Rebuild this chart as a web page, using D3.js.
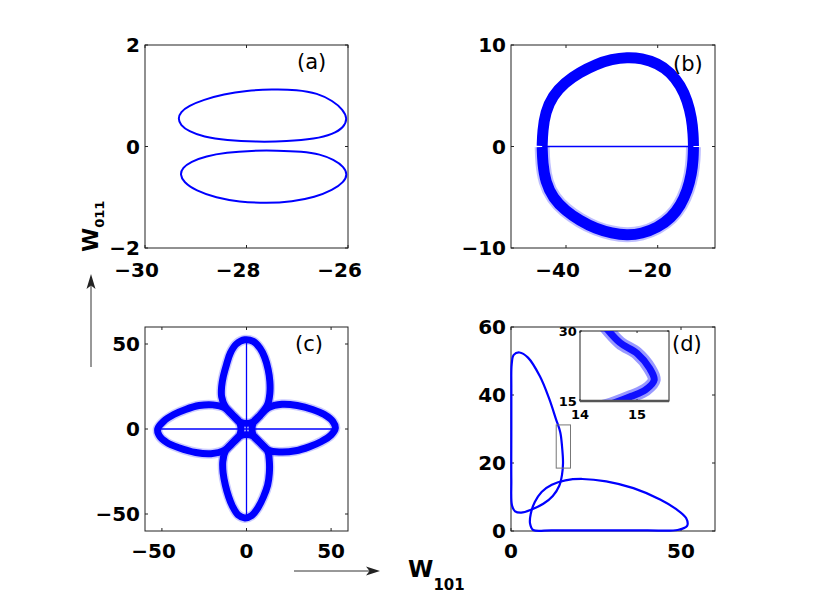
<!DOCTYPE html>
<html>
<head>
<meta charset="utf-8">
<script src="https://cdn.jsdelivr.net/npm/d3@7/dist/d3.min.js"></script>
<style>
  body { margin: 0; background: #fff; }
  text { font-family: "DejaVu Sans", sans-serif; }
</style>
</head>
<body>
<div id="chart"></div>
<script>
// ---- axis ranges and tick labels ----
var aXDomain = [-30, -26], aYDomain = [-2, 2];
var aXTicks = [-30, -28, -26], aYTicks = [-2, 0, 2];
var bXDomain = [-52, -7.5], bYDomain = [-10, 10];
var bXTicks = [-40, -20], bYTicks = [-10, 0, 10];
var cXDomain = [-60, 60], cYDomain = [-60, 60];
var cXTicks = [-50, 0, 50], cYTicks = [-50, 0, 50];
var dXDomain = [0, 60], dYDomain = [0, 60];
var dXTicks = [0, 50], dYTicks = [0, 20, 40, 60];
var insetXDomain = [14, 15.56], insetYDomain = [15, 30];
var insetXTicks = [14, 15], insetYTicks = [15, 30];

// ---- (a) two closed orbits, [W101, W011] ----
var aUpperLoop = [[-29.35, 0.55], [-29.3, 0.68], [-29.14, 0.8], [-28.85, 0.92], [-28.45, 1.03], [-28.0, 1.1],
    [-27.5, 1.13], [-27.0, 1.12], [-26.6, 1.05], [-26.3, 0.9], [-26.1, 0.73], [-26.01, 0.55], [-26.08, 0.38],
    [-26.3, 0.24], [-26.65, 0.15], [-27.2, 0.1], [-27.8, 0.09], [-28.4, 0.12], [-28.85, 0.19], [-29.14, 0.3],
    [-29.3, 0.42]];
var aLowerLoop = [[-29.31, -0.55], [-29.26, -0.42], [-29.1, -0.3], [-28.8, -0.19], [-28.4, -0.12], [-27.9, -0.08],
    [-27.4, -0.08], [-26.9, -0.1], [-26.55, -0.15], [-26.28, -0.26], [-26.08, -0.4], [-26.01, -0.55], [-26.08, -0.7],
    [-26.3, -0.86], [-26.65, -1.0], [-27.1, -1.09], [-27.6, -1.12], [-28.15, -1.09], [-28.6, -1.01],
    [-29.0, -0.87], [-29.24, -0.7]];

// ---- (b) thick band, upper and lower halves ----
var bTopHalf = [[-45.2, 0.05], [-45.1, 1.5], [-44.5, 3.4], [-42.9, 5.0], [-40.3, 6.3], [-37, 7.3], [-33.5, 8.1],
    [-30, 8.6], [-26.7, 8.8], [-23.5, 8.7], [-20, 8.2], [-17.2, 7.3], [-15, 6.0], [-13.5, 4.5], [-12.6, 2.8],
    [-12.25, 1.2], [-12.2, 0.05]];
var bBottomHalf = [[-45.2, -0.05], [-45.1, -1.6], [-44.5, -3.5], [-42.8, -5.1], [-40.2, -6.3], [-37, -7.3],
    [-33.5, -8.1], [-30, -8.55], [-26.7, -8.75], [-23.5, -8.6], [-20, -8.0], [-17, -7.0], [-15, -5.8],
    [-13.5, -4.3], [-12.6, -2.7], [-12.25, -1.2], [-12.2, -0.05]];
var bAxisLine = [[-45.2, 0], [-12.2, 0]];

// ---- (c) four petals ----
var cTopPetal = [[-3.8, 4], [-8, 8], [-12.5, 13], [-14.7, 19], [-14.7, 25], [-13.7, 31], [-11.8, 38], [-9.5, 44.8],
    [-6, 50], [-1, 52.5], [4, 51.5], [8, 47.5], [10.8, 42], [12.8, 35], [13.8, 28], [13.8, 21], [12.5, 14.5],
    [8, 8], [3.8, 4]];
var cBottomPetal = [[3.8, -4], [8, -8], [12.5, -13], [13.5, -19], [13.5, -26], [12.5, -33], [10, -40], [7, -46],
    [3, -51], [-1, -52.3], [-5, -50.5], [-8.5, -45], [-10.5, -40], [-12.5, -33], [-13.8, -26], [-14, -19],
    [-12.5, -13], [-8, -8], [-3.8, -4]];
var cLeftPetal = [[-4, 3.8], [-8, 8], [-13, 12.5], [-20, 14.2], [-28, 13.8], [-36, 11.5], [-43, 8.5], [-49, 4.5],
    [-52.5, 0], [-51.5, -4], [-47, -8], [-40, -11], [-30, -13.8], [-21, -14.5], [-13, -12.5], [-8, -8], [-4, -3.8]];
var cRightPetal = [[4, -3.8], [8, -8], [13, -12.5], [20, -13.5], [29, -12.8], [37, -10.5], [44, -7.5], [50, -3.5],
    [52.5, 0.5], [51, 4.5], [46, 8.5], [39, 11.5], [30, 13.8], [21, 14.5], [13, 12.5], [8, 8], [4, 3.8]];
var cVerticalLine = [[0, -52.5], [0, 52.5]];
var cHorizontalLine = [[-52.5, 0], [52.5, 0]];

// ---- (d) two loops plus zoomed piece ----
var dTallLoop = [[0.2, 49], [0.8, 51.8], [2.5, 52.5], [5, 51], [8.5, 45.5], [11.2, 39], [13.2, 33], [14.5, 29],
    [15.0, 25], [15.3, 20], [15.0, 16.5], [14.2, 13.3], [12.3, 10.3], [9.5, 8], [6, 6.3], [3, 5.4], [1.2, 5.8],
    [0.3, 7.5], [0.1, 15], [0.1, 30], [0.1, 42]];
var dWideLoop = [[6.5, 0.3], [12, 0.2], [25, 0.2], [40, 0.2], [49, 0.3], [51.8, 1.5], [51.5, 3.8], [48.5, 6.5],
    [44, 9.2], [36, 12.6], [28, 14.6], [21, 15.3], [16, 14.9], [12, 13.6], [9, 11.5], [7, 8.5], [5.8, 5], [5.6, 2.2]];
var dZoomBox = [[13.3, 18.5], [17.5, 31.2]];
var insetCurve = [[14.4, 31.5], [14.7, 27.5], [15.0, 25.2], [15.22, 22], [15.3, 19.5], [15.15, 17.4],
    [14.9, 16], [14.6, 14.6], [14.3, 13.5]];

var width = 830, height = 598;
var blue = "#0000ff", axisColor = "#222";

var svg = d3.select("#chart").append("svg")
    .attr("width", width)
    .attr("height", height)
    .style("display", "block");

function tickText(v) {
    return v < 0 ? "\u2212" + Math.abs(v) : String(v);
}

function makeAxes(g, sx, sy, xTicks, yTicks, fontSize, xLabelGap, tickLen) {
    var x0 = sx.range()[0], x1 = sx.range()[1], y0 = sy.range()[1], y1 = sy.range()[0];
    g.append("rect")
        .attr("x", x0).attr("y", y0)
        .attr("width", x1 - x0).attr("height", y1 - y0)
        .attr("fill", "#fff")
        .attr("stroke", axisColor)
        .attr("stroke-width", 1);

    xTicks.forEach(function (t) {
        g.append("line").attr("x1", sx(t)).attr("x2", sx(t)).attr("y1", y1).attr("y2", y1 - tickLen)
            .attr("stroke", axisColor);
        g.append("line").attr("x1", sx(t)).attr("x2", sx(t)).attr("y1", y0).attr("y2", y0 + tickLen)
            .attr("stroke", axisColor);
        g.append("text")
            .attr("x", sx(t))
            .attr("y", y1 + xLabelGap)
            .attr("dx", t < 0 ? -fontSize * 0.42 : 0)
            .attr("text-anchor", "middle")
            .style("font-size", fontSize + "px")
            .style("font-weight", "bold")
            .text(tickText(t));
    });
    yTicks.forEach(function (t) {
        g.append("line").attr("x1", x0).attr("x2", x0 + tickLen).attr("y1", sy(t)).attr("y2", sy(t))
            .attr("stroke", axisColor);
        g.append("line").attr("x1", x1).attr("x2", x1 - tickLen).attr("y1", sy(t)).attr("y2", sy(t))
            .attr("stroke", axisColor);
        g.append("text")
            .attr("x", x0 - fontSize * 0.25)
            .attr("y", sy(t))
            .attr("dy", "0.36em")
            .attr("text-anchor", "end")
            .style("font-size", fontSize + "px")
            .style("font-weight", "bold")
            .text(tickText(t));
    });
}

// smooth = use B-spline (no wiggles) instead of Catmull-Rom
function drawCurve(g, pts, sx, sy, closed, strokeWidth, opacity, smooth) {
    var curve;
    if (smooth) curve = closed ? d3.curveBasisClosed : d3.curveBasis;
    else curve = closed ? d3.curveCatmullRomClosed.alpha(0.5) : d3.curveCatmullRom.alpha(0.5);
    var line = d3.line()
        .x(function (d) { return sx(d[0]); })
        .y(function (d) { return sy(d[1]); })
        .curve(curve);
    return g.append("path")
        .datum(pts)
        .attr("d", line)
        .attr("fill", "none")
        .attr("stroke", blue)
        .attr("stroke-width", strokeWidth)
        .attr("stroke-opacity", opacity)
        .attr("stroke-linejoin", "round");
}

function panelLabel(g, x, y, txt) {
    g.append("text")
        .attr("x", x).attr("y", y)
        .style("font-size", "21px")
        .text(txt);
}

var panels = [
    {key: "a", x0: 145, x1: 348, y0: 45, y1: 248, xd: aXDomain, yd: aYDomain, xt: aXTicks, yt: aYTicks, lx: 297, ly: 69, gap: 29},
    {key: "b", x0: 511, x1: 715, y0: 45, y1: 248, xd: bXDomain, yd: bYDomain, xt: bXTicks, yt: bYTicks, lx: 673, ly: 71, gap: 29},
    {key: "c", x0: 145, x1: 348, y0: 327, y1: 531, xd: cXDomain, yd: cYDomain, xt: cXTicks, yt: cYTicks, lx: 295, ly: 351, gap: 27},
    {key: "d", x0: 511, x1: 715, y0: 327, y1: 531, xd: dXDomain, yd: dYDomain, xt: dXTicks, yt: dYTicks, lx: 672, ly: 351, gap: 27}
];

panels.forEach(function (p) {
    var g = svg.append("g").attr("class", "panel-" + p.key);
    var sx = d3.scaleLinear().domain(p.xd).range([p.x0, p.x1]);
    var sy = d3.scaleLinear().domain(p.yd).range([p.y1, p.y0]);
    makeAxes(g, sx, sy, p.xt, p.yt, 20, p.gap, 3);

    if (p.key === "a") {
        drawCurve(g, aUpperLoop, sx, sy, true, 2, 1, true);
        drawCurve(g, aLowerLoop, sx, sy, true, 2, 1, true);
    }
    if (p.key === "b") {
        drawCurve(g, bBottomHalf, sx, sy, false, 15, 0.25, true);
        drawCurve(g, bBottomHalf, sx, sy, false, 11, 1, true);
        drawCurve(g, bTopHalf, sx, sy, false, 11, 1, true);
        drawCurve(g, bAxisLine, sx, sy, false, 1.5, 1);
    }
    if (p.key === "c") {
        [cTopPetal, cBottomPetal, cLeftPetal, cRightPetal].forEach(function (pet) {
            drawCurve(g, pet, sx, sy, true, 10, 0.2);
        });
        [cTopPetal, cBottomPetal, cLeftPetal, cRightPetal].forEach(function (pet) {
            drawCurve(g, pet, sx, sy, true, 7, 1);
        });
        drawCurve(g, cVerticalLine, sx, sy, false, 1.3, 1);
        drawCurve(g, cHorizontalLine, sx, sy, false, 1.3, 1);
    }
    if (p.key === "d") {
        drawCurve(g, dTallLoop, sx, sy, true, 2.2, 1);
        drawCurve(g, dWideLoop, sx, sy, true, 2.2, 1);
        g.append("rect")
            .attr("x", sx(dZoomBox[0][0])).attr("y", sy(dZoomBox[1][1]))
            .attr("width", sx(dZoomBox[1][0]) - sx(dZoomBox[0][0]))
            .attr("height", sy(dZoomBox[0][1]) - sy(dZoomBox[1][1]))
            .attr("fill", "none").attr("stroke", "#777").attr("stroke-width", 1);

        // inset
        var ig = g.append("g").attr("class", "inset");
        var ix = d3.scaleLinear().domain(insetXDomain).range([580, 669]);
        var iy = d3.scaleLinear().domain(insetYDomain).range([401, 331]);
        ig.append("clipPath").attr("id", "insetClip")
            .append("rect").attr("x", 580).attr("y", 331).attr("width", 89).attr("height", 70);
        makeAxes(ig, ix, iy, insetXTicks, insetYTicks, 13, 18, 2);
        var cg = ig.append("g").attr("clip-path", "url(#insetClip)");
        drawCurve(cg, insetCurve, ix, iy, false, 13, 0.4);
        drawCurve(cg, insetCurve, ix, iy, false, 7, 0.9);
        ig.append("line").attr("x1", 580).attr("x2", 669).attr("y1", 401).attr("y2", 401)
            .attr("stroke", "#555").attr("stroke-width", 2.5);
    }
    panelLabel(g, p.lx, p.ly, "(" + p.key + ")");
});

// axis names and arrows
var yName = svg.append("text")
    .attr("transform", "translate(98,252) rotate(-90)")
    .style("font-weight", "bold");
yName.append("tspan").style("font-size", "22px").text("W");
yName.append("tspan").style("font-size", "13px").attr("dy", 6).text("011");

var xName = svg.append("text")
    .attr("x", 408).attr("y", 577)
    .style("font-weight", "bold");
xName.append("tspan").style("font-size", "23px").text("W");
xName.append("tspan").style("font-size", "15px").attr("dy", 13).text("101");

svg.append("line").attr("x1", 91).attr("x2", 91).attr("y1", 367).attr("y2", 285)
    .attr("stroke", "#333").attr("stroke-width", 1);
svg.append("path").attr("d", "M91,274 L86.5,289 L91,285.5 L95.5,289 Z").attr("fill", "#222");

svg.append("line").attr("x1", 294).attr("x2", 370).attr("y1", 571).attr("y2", 571)
    .attr("stroke", "#333").attr("stroke-width", 1);
svg.append("path").attr("d", "M380,571 L366,566.5 L369.5,571 L366,575.5 Z").attr("fill", "#222");
</script>
</body>
</html>
